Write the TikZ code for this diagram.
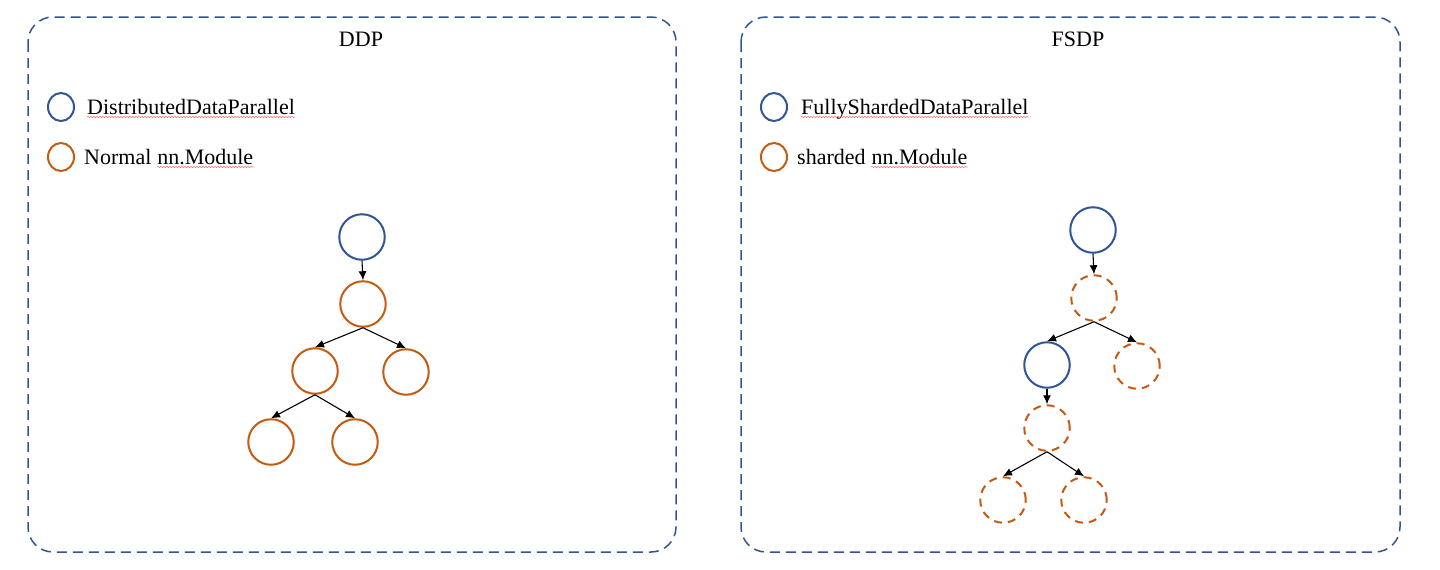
\documentclass[tikz,border=0pt]{standalone}
\usepackage{fontspec}
\setmainfont{Liberation Serif}
\usepackage{xcolor}
\usepackage{tikz}
\usetikzlibrary{positioning}
\usetikzlibrary{arrows.meta}
\usetikzlibrary{shapes.geometric}
\usetikzlibrary{decorations.pathmorphing}
\definecolor{fsblue}{HTML}{2F5597}
\definecolor{fsorange}{HTML}{C55A11}
\tikzset{link/.style = {->,> = {Latex[length=9pt,width=8pt]}}}

\begin{document}
\begin{tikzpicture}[x=1pt,y=-1pt,every node/.style={font=\fontsize{22}{26}\selectfont},
  panel/.style={draw=fsblue,line width=1.5pt,dash pattern=on 10pt off 6pt,rounded corners=25pt},
  wrap node/.style={circle,draw=fsblue,line width=2pt,minimum size=45.5pt,inner sep=0pt},
  plain node/.style={circle,draw=fsorange,line width=2pt,minimum size=45.5pt,inner sep=0pt},
  shard node/.style={plain node,dash pattern=on 8pt off 6pt},
  keymark/.style={ellipse,line width=2pt,minimum width=26pt,minimum height=28pt,inner sep=0pt},
  keytext/.style={anchor=base west,inner sep=0pt},
  squiggle/.style={draw=red!55,line width=0.6pt,decorate,decoration={snake,amplitude=0.7pt,segment length=3pt}},
  tree arrow/.style={link,line width=1.1pt}]
            \useasboundingbox (0,0) rectangle (1440,570);

            % two panels
            \draw[panel] (28,17) rectangle (676,552);
            \draw[panel] (741,17) rectangle (1400,552);
            \node[anchor=base] (ddp) at (361,46) {DDP};
            \node[anchor=base] (fsdp) at (1078,46) {FSDP};

            % legend DDP
            \node[keymark,draw=fsblue] (k1) at (61,107) {};
            \node[keytext] (t1) at (87,114) {DistributedDataParallel};
            \node[keymark,draw=fsorange] (k2) at (61,157) {};
            \node[keytext] (t2) at (84,164) {Normal};
            \node[keytext] (t2b) at ([xshift=5.5pt]t2.base east) {nn.Module};
            \draw[squiggle] ([yshift=-3pt]t1.base west) -- ([yshift=-3pt]t1.base east);
            \draw[squiggle] ([yshift=-3pt]t2b.base west) -- ([yshift=-3pt]t2b.base east);

            % legend FSDP
            \node[keymark,draw=fsblue] (k3) at (774,107) {};
            \node[keytext] (t3) at (801,114) {FullyShardedDataParallel};
            \node[keymark,draw=fsorange] (k4) at (774,157) {};
            \node[keytext] (t4) at (797,164) {sharded};
            \node[keytext] (t4b) at ([xshift=5.5pt]t4.base east) {nn.Module};
            \draw[squiggle] ([yshift=-3pt]t3.base west) -- ([yshift=-3pt]t3.base east);
            \draw[squiggle] ([yshift=-3pt]t4b.base west) -- ([yshift=-3pt]t4b.base east);

            % DDP tree
            \node[wrap node] (d1) at (362,237) {};
            \node[plain node] (d2) at (363,304) {};
            \node[plain node] (d3) at (315,371) {};
            \node[plain node] (d4) at (406,372) {};
            \node[plain node] (d5) at (271,442) {};
            \node[plain node] (d6) at (355,442) {};

            \path[tree arrow]
                (d1.south) edge (d2.north)
                (d2.south) edge (d3.north)
                (d2.south) edge (d4.north)
                (d3.south) edge (d5.north)
                (d3.south) edge (d6.north);

            % FSDP tree
            \node[wrap node] (f1) at (1093,230) {};
            \node[shard node] (f2) at (1094,298) {};
            \node[wrap node] (f3) at (1047,365) {};
            \node[shard node] (f4) at (1137,366) {};
            \node[shard node] (f5) at (1047,428) {};
            \node[shard node] (f6) at (1003,500) {};
            \node[shard node] (f7) at (1084,500) {};

            \path[tree arrow]
                (f1.south) edge (f2.north)
                (f2.south) edge (f3.north)
                (f2.south) edge (f4.north)
                (f3.south) edge (f5.north)
                (f5.south) edge (f6.north)
                (f5.south) edge (f7.north);
        \end{tikzpicture}
\end{document}
